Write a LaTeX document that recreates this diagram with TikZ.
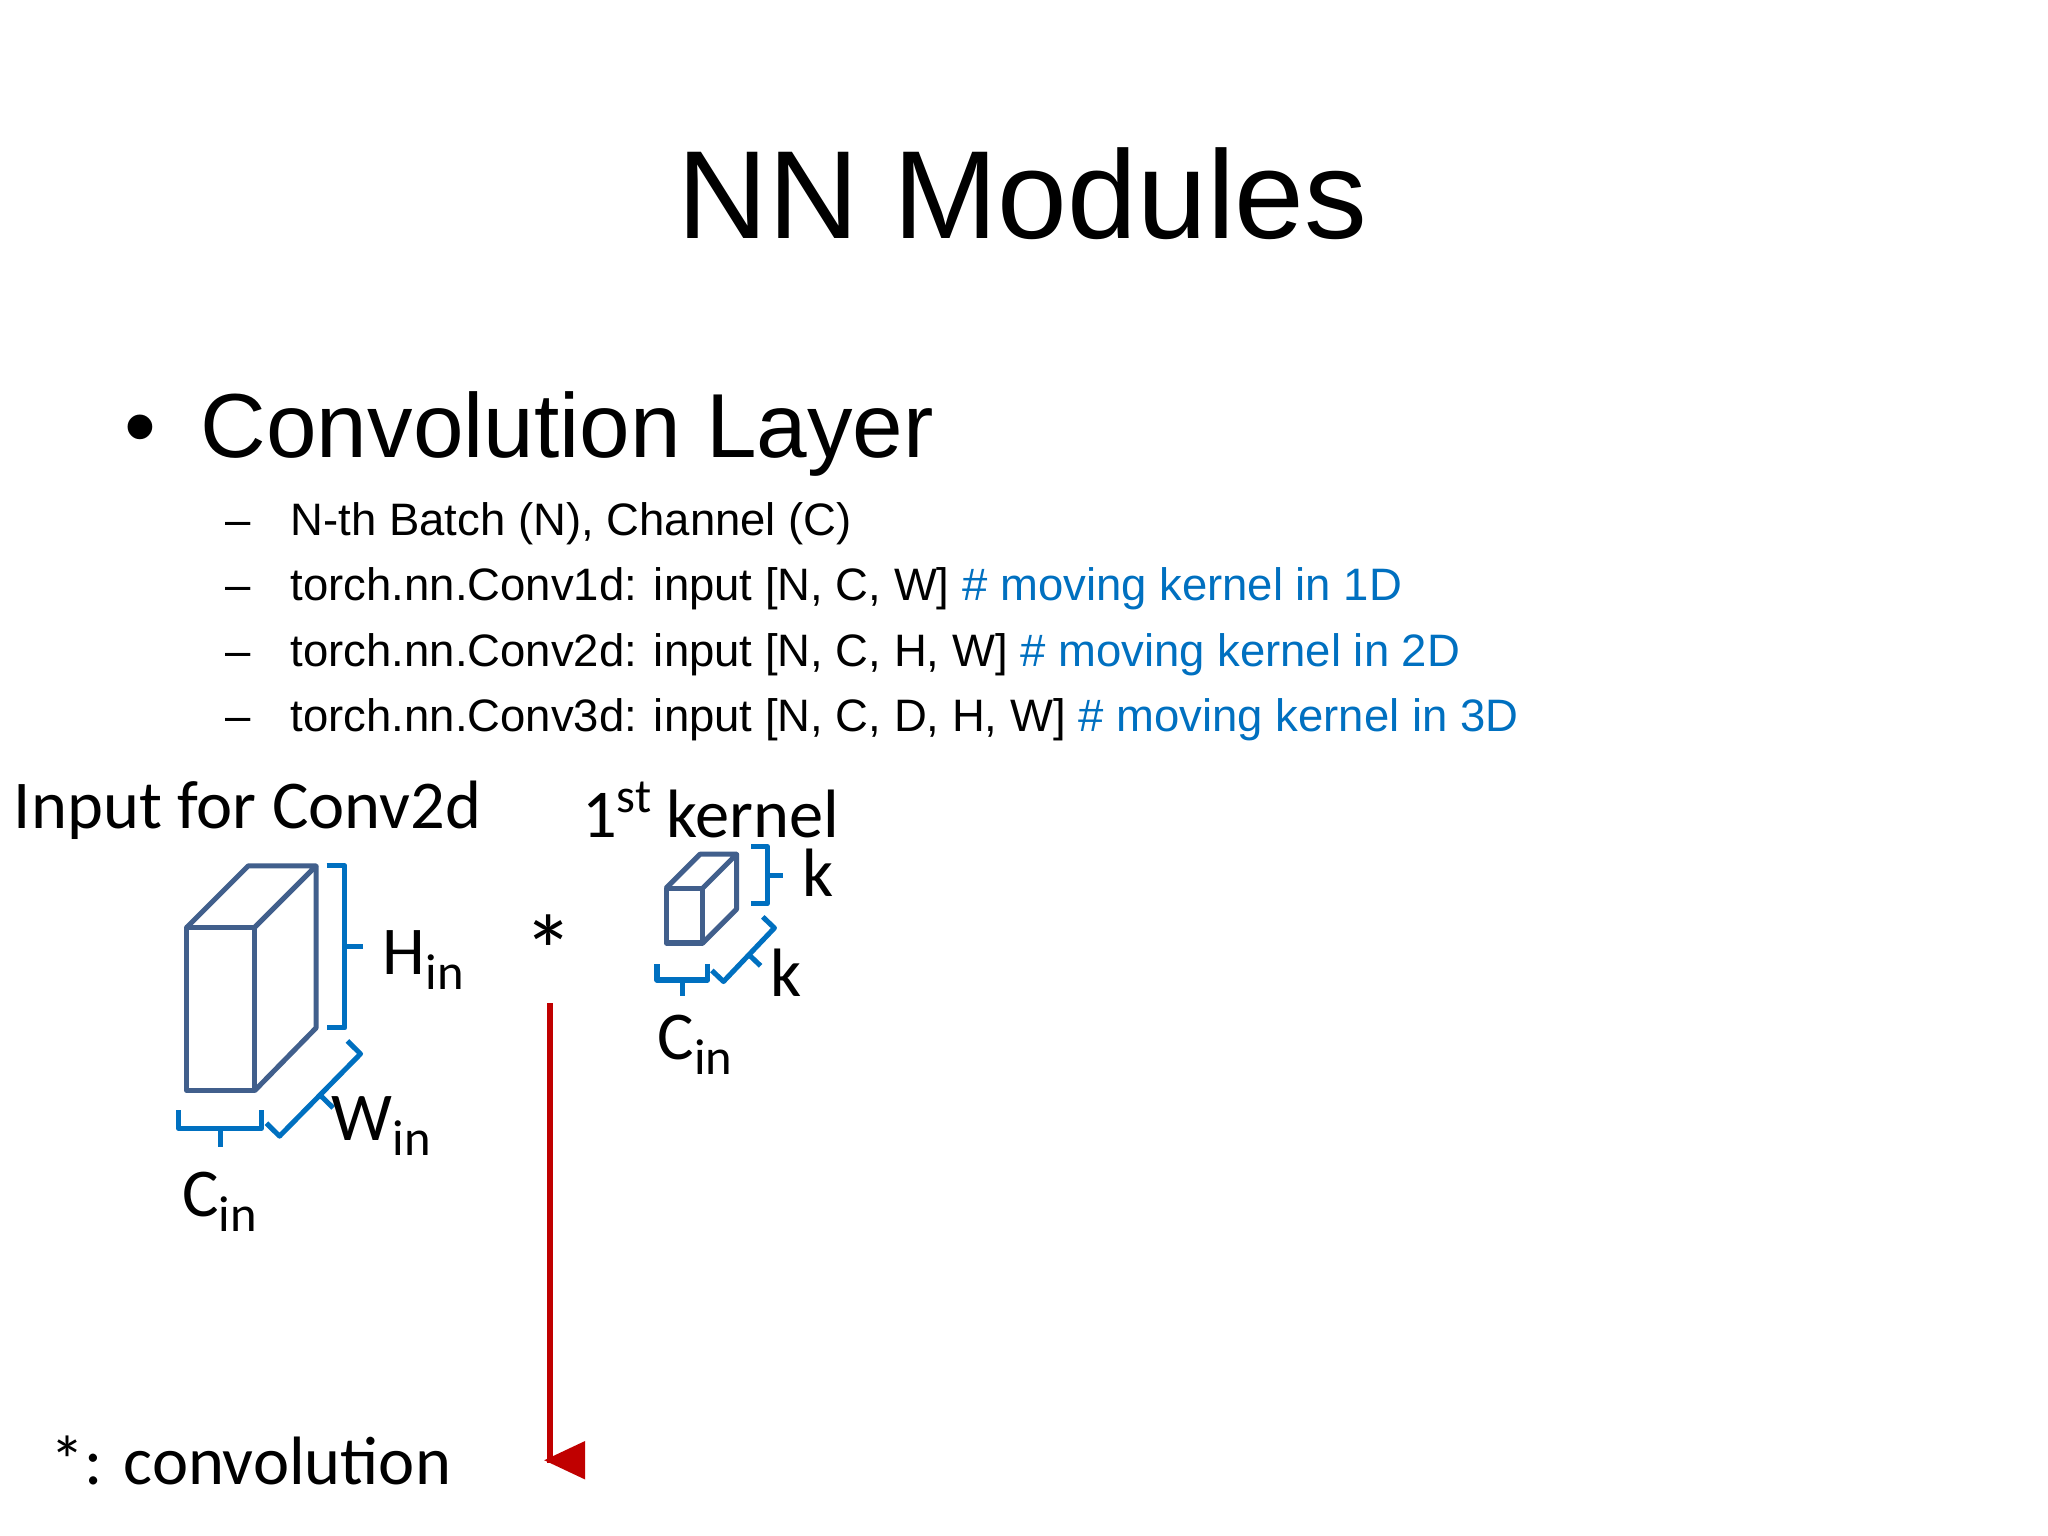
\documentclass[tikz,border=0pt]{standalone}
\usepackage{fontspec}
\setmainfont{Liberation Sans}
\newfontfamily\calfont{Carlito}
\usetikzlibrary{calc,arrows.meta}
\definecolor{cube}{RGB}{65,95,140}
\definecolor{mblue}{RGB}{0,112,192}
\definecolor{mred}{RGB}{192,0,0}
\newcommand{\subtxt}[2]{#1\raisebox{-0.45ex}{\fontsize{11pt}{12pt}\selectfont #2}}
\newcommand{\sqbr}[3][4pt]{%
  \draw[brl] (#2) -- ($(#2)!#1!90:(#3)$) -- ($(#3)!#1!-90:(#2)$) -- (#3);
  \coordinate (mm) at ($(#2)!.5!(#3)$);
  \draw[brl] ($(mm)!#1!90:(#3)$) -- ($(mm)!2*#1!90:(#3)$);}
\begin{document}
\begin{tikzpicture}[x=0.01cm,y=-0.01cm,
  cubeline/.style={draw=cube,line width=1.1pt,line join=round},
  brl/.style={draw=mblue,line width=1.1pt,line join=round},
  lab/.style={font=\calfont\fontsize{14.9pt}{18pt}\selectfont,inner sep=0pt},
  item/.style={font=\fontsize{9.9pt}{12pt}\selectfont,anchor=base west,inner sep=0pt}]
\useasboundingbox[fill=white] (0,0) rectangle (1568,1176);
\node[font=\fontsize{27.3pt}{33pt}\selectfont] (title) at (783,148) {NN Modules};
\node[font=\fontsize{19.8pt}{24pt}\selectfont,anchor=base west,inner sep=0pt] (bul) at (95,350) {•};
\node[font=\fontsize{19.8pt}{24pt}\selectfont,anchor=base west,inner sep=0pt] (conv) at (153,350) {Convolution Layer};
\foreach \y/\t in {410/{N-th Batch (N), Channel (C)},
  460/{torch.nn.Conv1d: input [N, C, W] \textcolor{mblue}{\# moving kernel in 1D}},
  510/{torch.nn.Conv2d: input [N, C, H, W] \textcolor{mblue}{\# moving kernel in 2D}},
  560/{torch.nn.Conv3d: input [N, C, D, H, W] \textcolor{mblue}{\# moving kernel in 3D}}}{
  \node[item] at (172,\y) {–};
  \node[item] at (222,\y) {\t};
}
\node[lab,anchor=west] (inp) at (10,620) {Input for Conv2d};
\node[lab,anchor=west] (ker) at (445,620) {1\raisebox{0.75ex}{\fontsize{10.5pt}{12pt}\selectfont st} kernel};
% big cube
\draw[cubeline] (143,710) rectangle (195,835);
\draw[cubeline] (143,710) -- (190,663) -- (242,663) -- (195,710);
\draw[cubeline] (242,663) -- (242,787) -- (195,835);
\sqbr[4pt]{250,663}{250,787}
\node[lab] (hin) at (324,735) {\subtxt{H}{in}};
\sqbr[4pt]{266,797}{204,860}
\node[lab] (win) at (292,862) {\subtxt{W}{in}};
\sqbr[4pt]{200,850}{137,850}
\node[lab] (cin) at (168,920) {\subtxt{C}{in}};
% star
\node[lab,font=\calfont\fontsize{22pt}{24pt}\selectfont] (star) at (420,728) {*};
\coordinate (rs) at (421,768);
\coordinate (rc) at (421,1118);
\node[lab,anchor=west] (convtxt) at (38,1118) {*: convolution};
\draw[mred,line width=1.4pt,-{Triangle[length=9pt,width=8pt]}] (rs) -- (rc) -- ([xshift=20]convtxt.east);
% small cube
\draw[cubeline] (510,680) rectangle (538,722);
\draw[cubeline] (510,680) -- (536,654) -- (564,654) -- (538,680);
\draw[cubeline] (564,654) -- (564,696) -- (538,722);
\sqbr[3.5pt]{575,648}{575,692}
\node[lab] (k1) at (626,668) {k};
\sqbr[3.5pt]{584,702}{545,743}
\node[lab] (k2) at (602,745) {k};
\sqbr[3.5pt]{542,738}{503,738}
\node[lab] (cin2) at (532,800) {\subtxt{C}{in}};
\end{tikzpicture}
\end{document}
